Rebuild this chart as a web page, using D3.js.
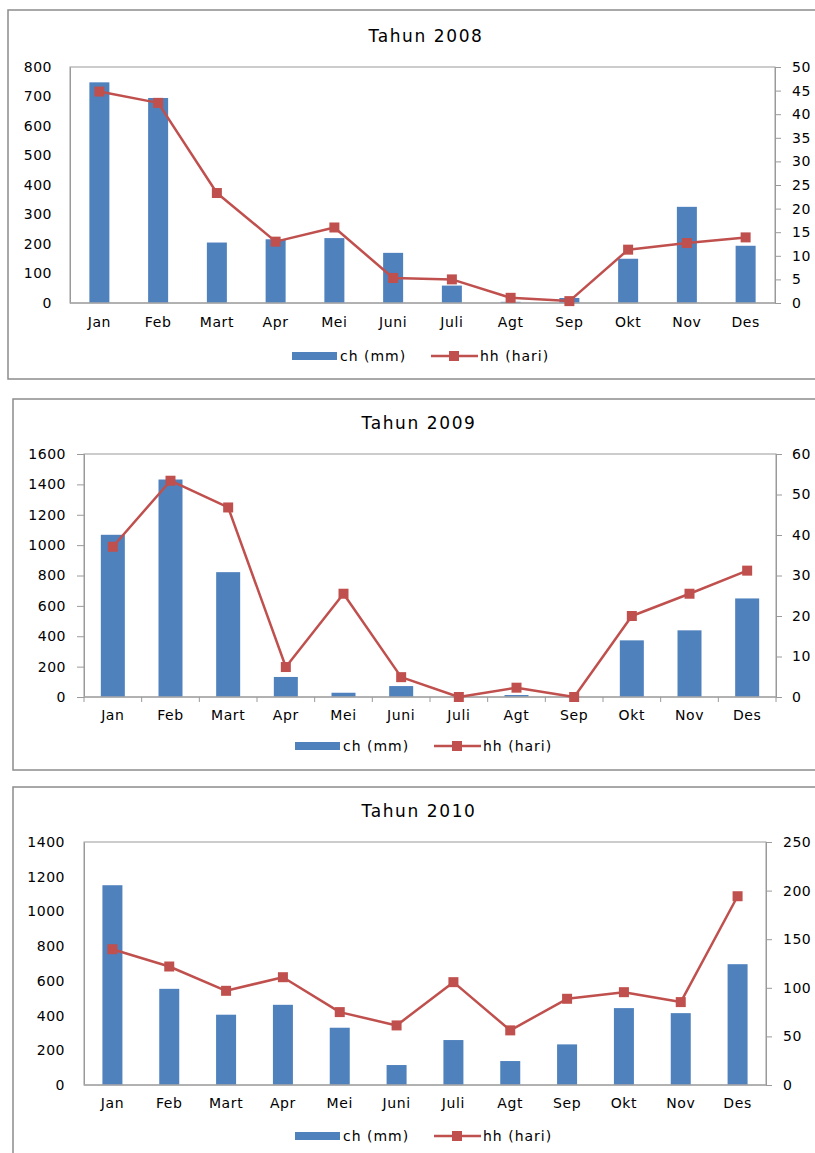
<!DOCTYPE html>
<html>
<head>
<meta charset="utf-8">
<script src="https://cdn.jsdelivr.net/npm/d3@7/dist/d3.min.js"></script>
<style>
  body { margin: 0; background: #fff; }
  text { font-family: "DejaVu Sans", Verdana, sans-serif; fill: #000; }
</style>
</head>
<body>
<svg id="viz" width="815" height="1153"></svg>
<script>
// data
const months = ["Jan", "Feb", "Mart", "Apr", "Mei", "Juni", "Juli", "Agt", "Sep", "Okt", "Nov", "Des"];

const ch2008 = [748, 695, 205, 216, 220, 170, 59, 4, 17, 150, 326, 194];
const hh2008 = [44.8, 42.4, 23.3, 13.0, 16.0, 5.3, 5.0, 1.1, 0.4, 11.3, 12.7, 13.9];

const ch2009 = [1068, 1432, 822, 132, 28, 72, 0, 13, 0, 373, 439, 649];
const hh2009 = [37.1, 53.4, 46.8, 7.4, 25.5, 4.9, 0, 2.3, 0, 20, 25.5, 31.2];

const ch2010 = [1151, 554, 405, 462, 330, 115, 259, 138, 234, 443, 414, 696];
const hh2010 = [139.7, 121.9, 96.9, 110.9, 75, 61.3, 105.8, 56.2, 88.7, 95.5, 85.3, 194.2];

const titles = ["Tahun 2008", "Tahun 2009", "Tahun 2010"];
const legendLabels = ["ch (mm)", "hh (hari)"];

const blue = "#4f81bd";
const red = "#c0504d";
const gray = "#8c8c8c";

const svg = d3.select("#viz");

const panels = [
  { title: titles[0], ch: ch2008, hh: hh2008, leftMax: 800, leftStep: 100, rightMax: 50, rightStep: 5,
    frame: { x: 8, y: 10, w: 830, h: 369 }, plot: { x0: 70, x1: 775, y0: 67, y1: 303 },
    titleX: 426, titleY: 42, leftLabelX: 52, rightLabelX: 792, leftTicks: false, catTicks: false,
    barW: 20, catY: 327, legendX: 292, legendY: 356 },
  { title: titles[1], ch: ch2009, hh: hh2009, leftMax: 1600, leftStep: 200, rightMax: 60, rightStep: 10,
    frame: { x: 13, y: 399, w: 830, h: 371 }, plot: { x0: 84, x1: 776, y0: 454, y1: 697 },
    titleX: 419, titleY: 429, leftLabelX: 66, rightLabelX: 792, leftTicks: true, catTicks: true,
    barW: 24, catY: 720, legendX: 295, legendY: 746 },
  { title: titles[2], ch: ch2010, hh: hh2010, leftMax: 1400, leftStep: 200, rightMax: 250, rightStep: 50,
    frame: { x: 13, y: 787, w: 830, h: 400 }, plot: { x0: 84, x1: 766, y0: 842, y1: 1085 },
    titleX: 419, titleY: 817, leftLabelX: 65, rightLabelX: 783, leftTicks: false, catTicks: false,
    barW: 20, catY: 1108, legendX: 295, legendY: 1136 }
];

panels.forEach(drawPanel);

function drawPanel(p) {
  const g = svg.append("g");

  // outer chart frame
  g.append("rect")
    .attr("x", p.frame.x).attr("y", p.frame.y)
    .attr("width", p.frame.w).attr("height", p.frame.h)
    .attr("fill", "none").attr("stroke", gray).attr("stroke-width", 1.5);

  g.append("text")
    .attr("x", p.titleX).attr("y", p.titleY)
    .attr("text-anchor", "middle")
    .style("font-size", "17px").style("letter-spacing", "1.6px")
    .text(p.title);

  const x = d3.scaleBand().domain(months).range([p.plot.x0, p.plot.x1]);
  const yL = d3.scaleLinear().domain([0, p.leftMax]).range([p.plot.y1, p.plot.y0]);
  const yR = d3.scaleLinear().domain([0, p.rightMax]).range([p.plot.y1, p.plot.y0]);

  // plot area border
  g.append("rect")
    .attr("x", p.plot.x0).attr("y", p.plot.y0)
    .attr("width", p.plot.x1 - p.plot.x0).attr("height", p.plot.y1 - p.plot.y0)
    .attr("fill", "none").attr("stroke", "#9a9a9a").attr("stroke-width", 1);

  // bars
  g.append("g").selectAll("rect")
    .data(p.ch)
    .join("rect")
    .attr("x", (d, i) => x(months[i]) + x.bandwidth() / 2 - p.barW / 2)
    .attr("y", d => yL(d))
    .attr("width", p.barW)
    .attr("height", d => yL(0) - yL(d))
    .attr("fill", blue);

  // left axis
  const leftAxis = d3.axisLeft(yL)
    .tickValues(d3.range(0, p.leftMax + 1, p.leftStep))
    .tickSize(p.leftTicks ? 7 : 0)
    .tickPadding(p.leftTicks ? p.plot.x0 - 7 - p.leftLabelX : p.plot.x0 - p.leftLabelX)
    .tickFormat(d3.format("d"));
  const la = g.append("g").attr("transform", `translate(${p.plot.x0},0)`).call(leftAxis);
  la.select(".domain").attr("stroke", "#9a9a9a");
  la.selectAll(".tick line").attr("stroke", "#9a9a9a");
  la.selectAll("text").style("font-size", "14px").style("letter-spacing", "0.5px")
    .style("font-family", "DejaVu Sans").attr("fill", "#000");

  // right axis
  const rightAxis = d3.axisRight(yR)
    .tickValues(d3.range(0, p.rightMax + 1, p.rightStep))
    .tickSize(6)
    .tickPadding(p.rightLabelX - p.plot.x1 - 6)
    .tickFormat(d3.format("d"));
  const ra = g.append("g").attr("transform", `translate(${p.plot.x1},0)`).call(rightAxis);
  ra.select(".domain").attr("stroke", "#9a9a9a");
  ra.selectAll(".tick line").attr("stroke", "#9a9a9a");
  ra.selectAll("text").style("font-size", "14px").style("letter-spacing", "0.5px")
    .style("font-family", "DejaVu Sans").attr("fill", "#000");

  // category axis
  const bottom = g.append("g").attr("transform", `translate(0,${p.plot.y1})`);
  bottom.append("line")
    .attr("x1", p.plot.x0).attr("x2", p.plot.x1)
    .attr("stroke", "#a8a8a8").attr("stroke-width", 1.5);
  if (p.catTicks) {
    bottom.selectAll("line.ct")
      .data(months.concat(["end"]))
      .join("line")
      .attr("class", "ct")
      .attr("x1", (d, i) => p.plot.x0 + i * x.step())
      .attr("x2", (d, i) => p.plot.x0 + i * x.step())
      .attr("y1", 0).attr("y2", 5)
      .attr("stroke", "#9a9a9a");
  }
  g.append("g").selectAll("text")
    .data(months)
    .join("text")
    .attr("x", d => x(d) + x.bandwidth() / 2)
    .attr("y", p.catY)
    .attr("text-anchor", "middle")
    .style("font-size", "14px").style("letter-spacing", "0.6px")
    .text(d => d);

  // line series
  const line = d3.line()
    .x((d, i) => x(months[i]) + x.bandwidth() / 2)
    .y(d => yR(d));
  g.append("path")
    .datum(p.hh)
    .attr("d", line)
    .attr("fill", "none")
    .attr("stroke", red)
    .attr("stroke-width", 2.5)
    .attr("stroke-linejoin", "round");
  g.append("g").selectAll("rect")
    .data(p.hh)
    .join("rect")
    .attr("x", (d, i) => x(months[i]) + x.bandwidth() / 2 - 5)
    .attr("y", d => yR(d) - 5)
    .attr("width", 10).attr("height", 10)
    .attr("fill", red);

  // legend
  const lg = g.append("g").attr("transform", `translate(${p.legendX},${p.legendY})`);
  lg.append("rect").attr("x", 0).attr("y", -4).attr("width", 45).attr("height", 8).attr("fill", blue);
  lg.append("text").attr("x", 48).attr("y", 5)
    .style("font-size", "14px").style("letter-spacing", "1px").text(legendLabels[0]);
  lg.append("line").attr("x1", 139).attr("x2", 186).attr("y1", 0).attr("y2", 0)
    .attr("stroke", red).attr("stroke-width", 2.5);
  lg.append("rect").attr("x", 157).attr("y", -5).attr("width", 10).attr("height", 10).attr("fill", red);
  lg.append("text").attr("x", 188).attr("y", 5)
    .style("font-size", "14px").style("letter-spacing", "1px").text(legendLabels[1]);
}
</script>
</body>
</html>
